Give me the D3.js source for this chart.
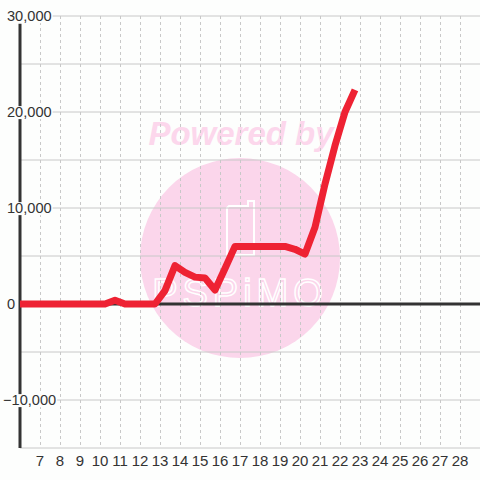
<!DOCTYPE html>
<html>
<head>
<meta charset="utf-8">
<script src="https://cdn.jsdelivr.net/npm/d3@7"></script>
<style>
  body { margin: 0; background: #fdfefd; }
  svg { display: block; font-family: "Liberation Sans", Arial, sans-serif; }
</style>
</head>
<body>
<div id="svg_div"><svg width="480" height="480"></svg></div>
<script>
// Series data (x position, value)
var xValues = [6, 6.25, 6.75, 7.25, 7.75, 8.25, 8.75, 9.25, 9.75, 10.25, 10.75, 11.25, 11.75, 12.25, 12.75,
    13.25, 13.75, 14.25, 14.75, 15.25, 15.75, 16.25, 16.75, 17.25, 17.75, 18.25, 18.75, 19.25,
    19.75, 20.25, 20.75, 21.25, 21.75, 22.25, 22.75];
var yValues = [0, 0, 0, 0, 0, 0, 0, 0, 0, 0, 400, 0, 0, 0, 0,
    1400, 4000, 3300, 2800, 2700, 1450, 3700, 6000, 6000, 6000, 6000, 6000, 6000,
    5700, 5200, 8000, 12500, 16500, 20000, 22300];

// Axis ticks
var xTicks = [7, 8, 9, 10, 11, 12, 13, 14, 15, 16, 17, 18, 19, 20, 21, 22, 23, 24, 25, 26, 27, 28];
var yTickLabels = [-10000, 0, 10000, 20000, 30000];
var yGrid = [-15000, -10000, -5000, 0, 5000, 10000, 15000, 20000, 25000, 30000];

var svg = d3.select("#svg_div").select("svg");
var svgWidth = +svg.attr("width");
var svgHeight = +svg.attr("height");

var margin = {top: 16, left: 20, bottom: 32, right: 0};

var xScale = d3.scaleLinear()
    .domain([6, 29])
    .range([margin.left, svgWidth - margin.right]);

var yScale = d3.scaleLinear()
    .domain([-15000, 30000])
    .range([svgHeight - margin.bottom, margin.top]);

// Watermark
var wm = svg.append("g").attr("class", "watermark");
wm.append("circle")
    .attr("cx", 240).attr("cy", 258).attr("r", 100)
    .attr("fill", "#fbd6eb");
wm.append("text")
    .attr("x", 241).attr("y", 145)
    .attr("text-anchor", "middle")
    .attr("font-size", 33)
    .attr("font-weight", "bold")
    .attr("font-style", "italic")
    .attr("fill", "#fcd7ec")
    .text("Powered by");
wm.append("path")
    .attr("d", "M229,206 H248 V201 H254 V255 H227 V208 Z")
    .attr("fill", "none")
    .attr("stroke", "#ffffff")
    .attr("stroke-width", 2);
wm.append("text")
    .attr("x", 240).attr("y", 306)
    .attr("text-anchor", "middle")
    .attr("font-size", 38)
    .attr("letter-spacing", 5)
    .attr("fill", "none")
    .attr("stroke", "#ffffff")
    .attr("stroke-width", 1.5)
    .text("PSPiMO");

// Horizontal grid
svg.append("g").selectAll("line.hgrid")
    .data(yGrid)
    .enter()
    .append("line")
    .attr("class", "hgrid")
    .attr("x1", xScale(6)).attr("x2", svgWidth)
    .attr("y1", function(d) { return yScale(d); })
    .attr("y2", function(d) { return yScale(d); })
    .attr("stroke", "#c8c8c8")
    .attr("stroke-width", 1);

// Vertical dashed grid
svg.append("g").selectAll("line.vgrid")
    .data(xTicks)
    .enter()
    .append("line")
    .attr("class", "vgrid")
    .attr("x1", function(d) { return Math.round(xScale(d)) + 0.5; })
    .attr("x2", function(d) { return Math.round(xScale(d)) + 0.5; })
    .attr("y1", yScale(30000)).attr("y2", yScale(-15000))
    .attr("stroke", "#c8c8c8")
    .attr("stroke-dasharray", "3,3")
    .attr("stroke-width", 1);

// Zero line
svg.append("line")
    .attr("x1", xScale(6)).attr("x2", svgWidth)
    .attr("y1", yScale(0)).attr("y2", yScale(0))
    .attr("stroke", "#333333")
    .attr("stroke-width", 3);

// Y axis line
svg.append("line")
    .attr("x1", xScale(6)).attr("x2", xScale(6))
    .attr("y1", yScale(29200)).attr("y2", yScale(-15000))
    .attr("stroke", "#333333")
    .attr("stroke-width", 3);

// Data line
var line = d3.line()
    .x(function(d, i) { return xScale(xValues[i]); })
    .y(function(d) { return yScale(d); });

svg.append("path")
    .datum(yValues)
    .attr("d", line)
    .attr("fill", "none")
    .attr("stroke", "#ee2233")
    .attr("stroke-width", 7)
    .attr("stroke-linejoin", "round");

// Y labels with background (left aligned like the original)
var fmt = d3.format(",");
var yLab = svg.append("g").selectAll("g.ylab")
    .data(yTickLabels)
    .enter()
    .append("g")
    .attr("class", "ylab");

yLab.append("text")
    .attr("x", function(d) { return d < 0 ? 3 : 7; })
    .attr("y", function(d) { return yScale(d); })
    .attr("dy", "0.35em")
    .attr("text-anchor", "start")
    .attr("font-size", 14.6)
    .attr("fill", "#333333")
    .text(function(d) { return fmt(d); });

yLab.each(function(d) {
    var g = d3.select(this);
    var t = g.select("text");
    var bb = t.node().getBBox();
    g.insert("rect", "text")
        .attr("x", bb.x - 1).attr("y", bb.y + 2)
        .attr("width", bb.width + 2).attr("height", bb.height - 3)
        .attr("fill", "#fdfefd");
});

// X labels
svg.append("g").selectAll("text.xlab")
    .data(xTicks)
    .enter()
    .append("text")
    .attr("class", "xlab")
    .attr("x", function(d) { return xScale(d); })
    .attr("y", 466)
    .attr("text-anchor", "middle")
    .attr("font-size", 15)
    .attr("fill", "#333333")
    .text(function(d) { return d; });
</script>
</body>
</html>
